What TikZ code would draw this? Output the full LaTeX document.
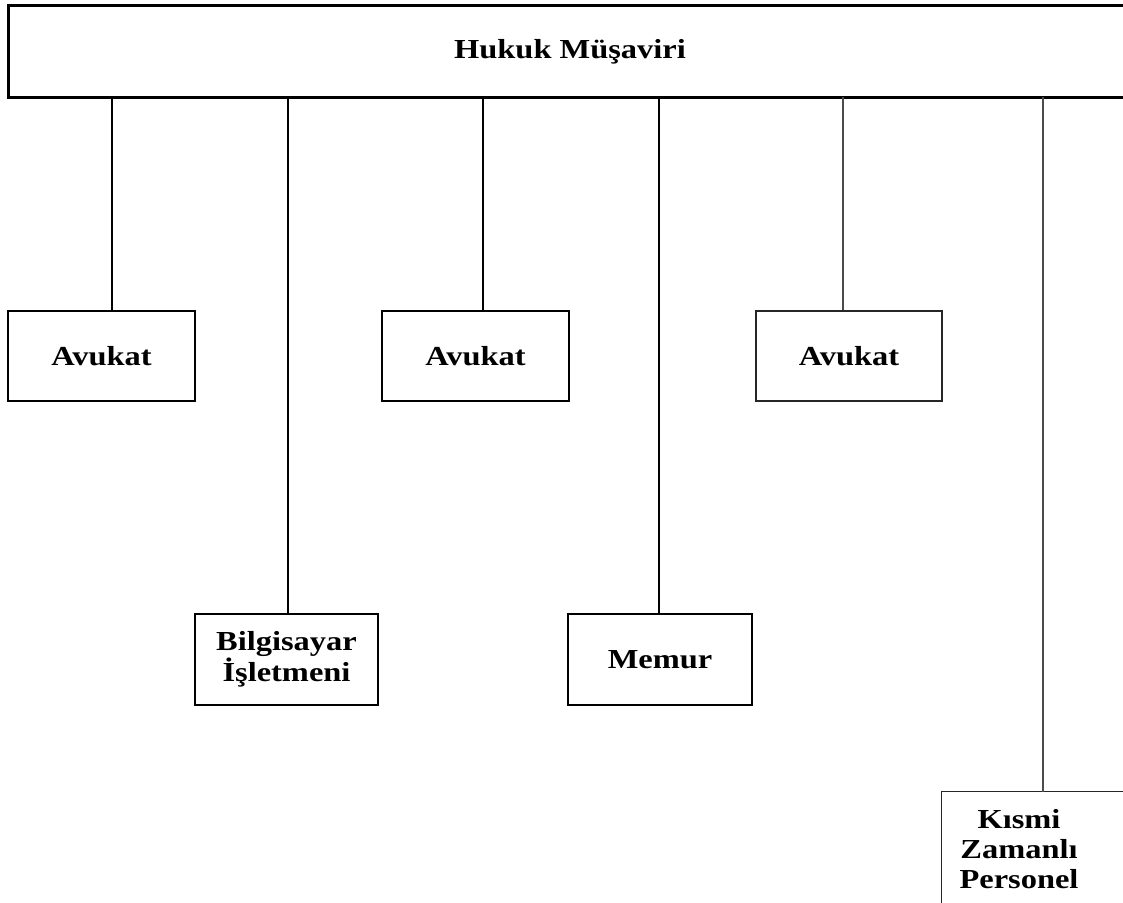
\documentclass[tikz,border=0pt]{standalone}
\usepackage{fontspec}
\setmainfont{Liberation Serif}[FakeStretch=1.18]
\begin{document}
\begin{tikzpicture}[x=1pt,y=-1pt,
  lbl/.style={font=\fontsize{27.5}{31}\selectfont\bfseries, align=center},
  box/.style={lbl, draw, line width=1.5pt, inner sep=0pt, minimum width=#1},
  box/.default=187pt,
  thinbox/.style={box=#1, line width=1.1pt, draw=black!85},
  thinbox/.default=186pt,
  openbox/.style={lbl, inner sep=0pt, minimum width=#1},
  conn/.style={line width=2pt},
  thinconn/.style={line width=1.1pt, draw=black!70}]
\useasboundingbox (0,0) rectangle (1123,902);
\node[openbox=1150pt, minimum height=91pt] (top) at (584,51.5) {};
\draw[line width=3pt, line join=miter] (top.north east) -- (top.north west) -- (top.south west) -- (top.south east);
\node[lbl] (topt) at (570,52) {Hukuk Müşaviri};
\node[box=187pt, minimum height=90pt] (a1) at (101.5,356) {Avukat};
\node[box=183pt, minimum height=91pt] (bi) at (286.5,659.5) {Bilgisayar\\İşletmeni};
\node[box=187pt, minimum height=90pt] (a2) at (475.5,356) {Avukat};
\node[box=184pt, minimum height=91pt] (me) at (660,659.5) {Memur};
\node[openbox=210pt, minimum height=140pt] (kz) at (1047,862) {};
\draw[line width=1.1pt, draw=black!85] (kz.south west) -- (kz.north west) -- (kz.north east);
\node[thinbox=186pt, minimum height=90pt] (a3) at (849,356) {Avukat};
\node[lbl, font=\fontsize{27.5}{30}\selectfont\bfseries] (kzt) at (1019,849) {Kısmi\\Zamanlı\\Personel};
\draw[conn] ([xshift=10.5pt]a1.north) -- ([xshift=10.5pt]a1.north |- top.south);
\draw[conn] ([xshift=1.5pt]bi.north) -- ([xshift=1.5pt]bi.north |- top.south);
\draw[conn] ([xshift=7.5pt]a2.north) -- ([xshift=7.5pt]a2.north |- top.south);
\draw[conn] ([xshift=-1pt]me.north) -- ([xshift=-1pt]me.north |- top.south);
\draw[thinconn] ([xshift=-6pt]a3.north) -- ([xshift=-6pt]a3.north |- top.south);
\draw[thinconn] ([xshift=-4pt]kz.north) -- ([xshift=-4pt]kz.north |- top.south);
\end{tikzpicture}
\end{document}
